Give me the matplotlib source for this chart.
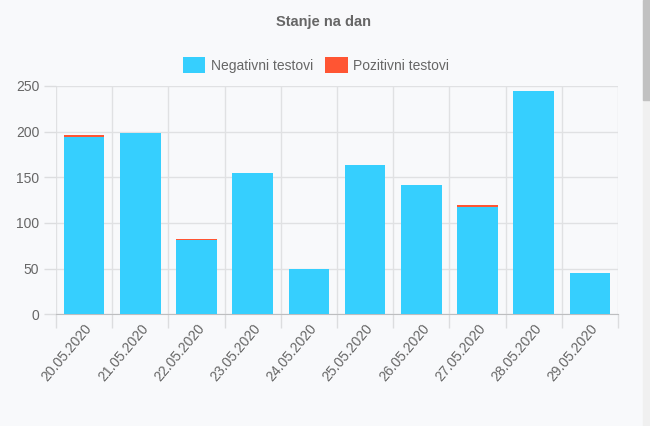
import numpy as np
import matplotlib
matplotlib.use("Agg")
import matplotlib.pyplot as plt
from matplotlib.patches import Rectangle

# podaci
datumi = ["20.05.2020", "21.05.2020", "22.05.2020", "23.05.2020", "24.05.2020",
          "25.05.2020", "26.05.2020", "27.05.2020", "28.05.2020", "29.05.2020"]
negativni = [194, 199, 81, 155, 50, 163, 142, 117, 245, 45]
pozitivni = [2, 0, 1, 0, 0, 1, 0, 3, 0, 0]

plava = "#36cffe"
crvena = "#ff5533"
siva_tekst = "#666666"
pozadina = "#f8f9fb"

plt.rcParams['font.family'] = ['Liberation Sans', 'DejaVu Sans']

fig = plt.figure(figsize=(6.5, 4.26), dpi=100, facecolor=pozadina)
ax = fig.add_axes([56 / 650, 1 - 314.3 / 426, (618 - 56) / 650, (314.3 - 86) / 426])
ax.set_facecolor(pozadina)

x = np.arange(len(datumi))
ax.bar(x, negativni, width=0.72, color=plava, label="Negativni testovi", zorder=3)
ax.bar(x, pozitivni, width=0.72, bottom=negativni, color=crvena,
       label="Pozitivni testovi", zorder=3)

ax.set_xlim(-0.5, len(datumi) - 0.5)
ax.set_ylim(0, 250)
ax.set_yticks(range(0, 251, 50))

ax.set_xticks(x)
ax.set_xticklabels(datumi, rotation=50, ha="right", rotation_mode="anchor")
ax.set_xticks(np.arange(-0.5, len(datumi)), minor=True)
ax.tick_params(axis="x", which="major", length=0, pad=5, labelsize=10, colors=siva_tekst)
ax.tick_params(axis="x", which="minor", length=10, color="#dcdddf", width=1)
ax.tick_params(axis="y", length=9, color="#dcdddf", width=1, pad=3,
               labelsize=10, colors=siva_tekst)

ax.grid(True, axis="y", color="#e0e1e3", linewidth=1, zorder=0)
ax.grid(True, axis="x", which="minor", color="#e0e1e3", linewidth=1, zorder=0)
ax.grid(False, axis="x", which="major")
for s in ["top", "right", "left"]:
    ax.spines[s].set_visible(False)
ax.spines["bottom"].set_color("#bdbec0")
ax.set_axisbelow(True)

fig.text(324 / 650, 1 - 22 / 426, "Stanje na dan", ha="center", va="center",
         fontsize=10.5, fontweight="bold", color=siva_tekst)
fig.legend(loc="center", bbox_to_anchor=(316 / 650, 1 - 65 / 426), ncol=2,
           frameon=False, fontsize=10, labelcolor=siva_tekst,
           handlelength=1.6, handleheight=1.4, handletextpad=0.4, columnspacing=0.9)

# traka za pomicanje s desne strane
fig.patches.append(Rectangle((643 / 650, 0), 7 / 650, 1, transform=fig.transFigure,
                             color="#f0f0f0", zorder=0))
fig.patches.append(Rectangle((643 / 650, 1 - 100 / 426), 7 / 650, 100 / 426,
                             transform=fig.transFigure, color="#c1c1c1", zorder=1))

fig.savefig("out.png", dpi=100, facecolor=pozadina)
